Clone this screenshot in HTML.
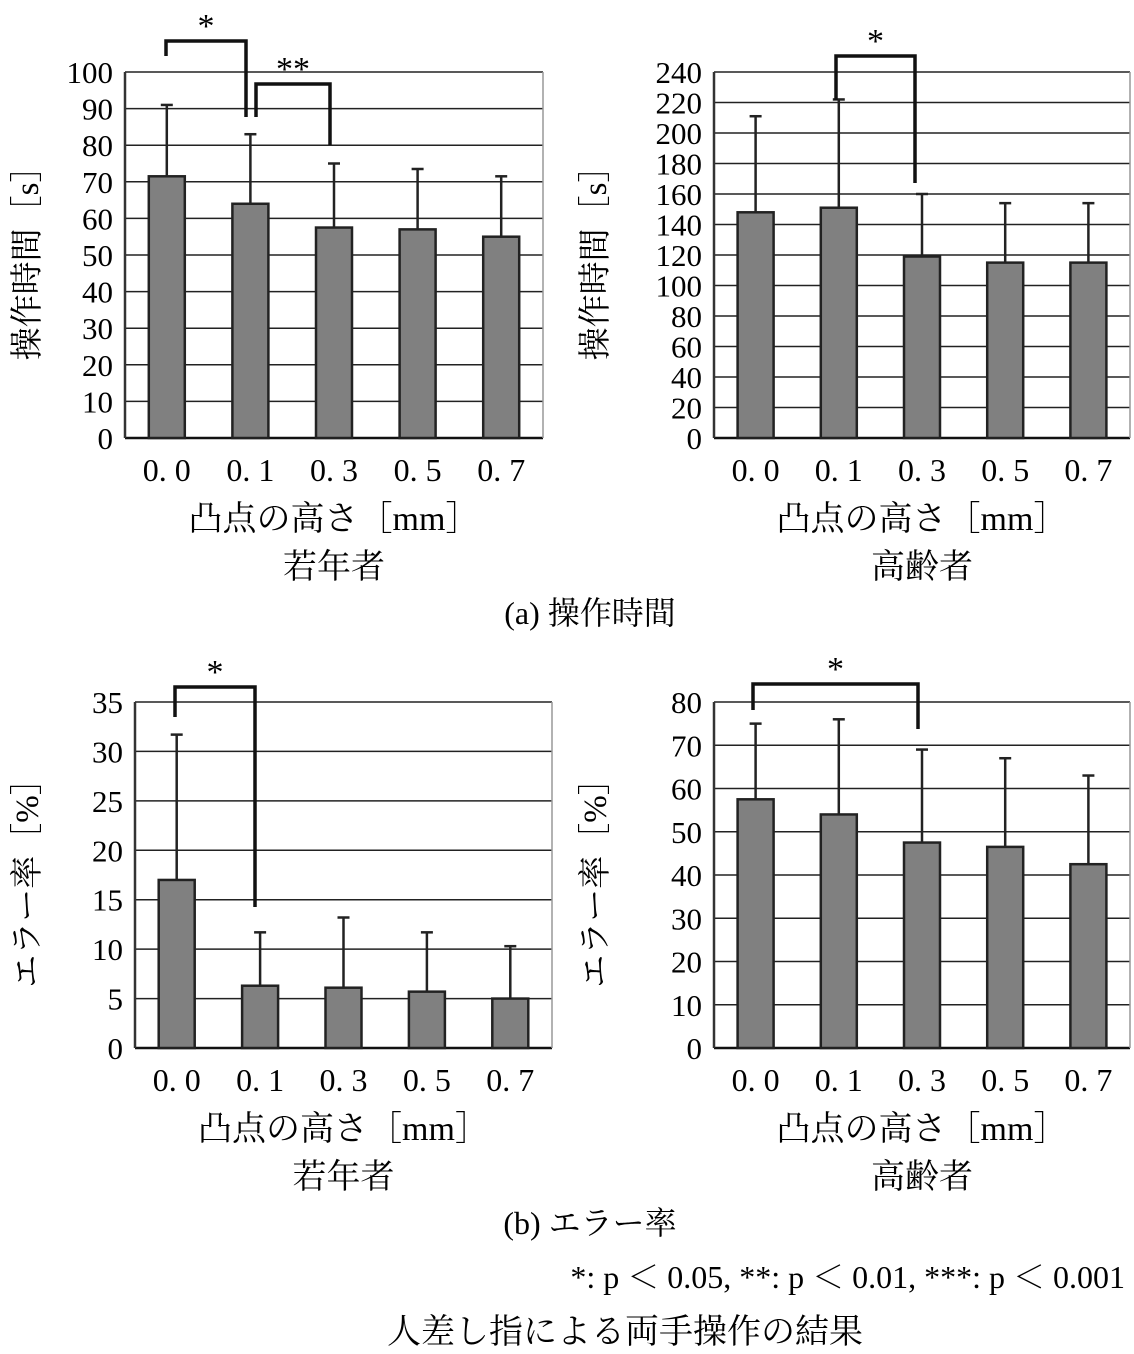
<!DOCTYPE html>
<html><head><meta charset="utf-8"><style>
html,body{margin:0;padding:0;background:#fff;}
svg{display:block;font-family:"Liberation Serif","Noto Serif CJK SC",serif;}
</style></head><body>
<svg id="s" width="1134" height="1354" viewBox="0 0 1134 1354" xmlns="http://www.w3.org/2000/svg">
<g id="g"></g>
<text x="590" y="624" font-size="32" text-anchor="middle">(a) 操作時間</text>
<text x="590" y="1234" font-size="32" text-anchor="middle">(b) エラー率</text>
<text x="1125" y="1288" font-size="32" text-anchor="end">*: p ＜ 0.05, **: p ＜ 0.01, ***: p ＜ 0.001</text>
<text x="625" y="1343" font-size="34" text-anchor="middle">人差し指による両手操作の結果</text>
</svg>
<script>
const categories=["0. 0","0. 1","0. 3","0. 5","0. 7"];
const timeYoung=[71.5,64,57.5,57,55];
const timeYoungErr=[91,83,75,73.5,71.5];
const timeOld=[148,151,119,115,115];
const timeOldErr=[211,222,160,154,154];
const errYoung=[17,6.3,6.1,5.7,5];
const errYoungErr=[31.7,11.7,13.2,11.7,10.3];
const errOld=[57.5,54,47.5,46.5,42.5];
const errOldErr=[75,76,69,67,63];
const NS="http://www.w3.org/2000/svg";
const g=document.getElementById('g');
function el(t,a,p){const e=document.createElementNS(NS,t);for(const k in a)e.setAttribute(k,a[k]);(p||g).appendChild(e);return e;}
function chart(o){
  const grp=el('g',{});
  
  
  const y=v=>o.y1-(v/o.max)*(o.y1-o.y0);
  const n=categories.length,bw=(o.x1-o.x0)/n;
  for(let v=0;v<=o.max;v+=o.step){
    const l=el('line',{x1:o.x0,x2:o.x1,y1:y(v),y2:y(v),stroke:v==0?'#111':'#222','stroke-width':v==0?2.5:1.5},grp);
    
    
    const t=el('text',{x:o.x0-12,y:y(v)+11,'font-size':31,'text-anchor':'end'},grp);
    t.textContent=v;
    
    
  }
  const ax=el('line',{x1:o.x0,x2:o.x0,y1:o.y0,y2:o.y1,stroke:'#333','stroke-width':2.5},grp);
  
  
  const rb=el('line',{x1:o.x1,x2:o.x1,y1:o.y0,y2:o.y1,stroke:'#999','stroke-width':1.5},grp);
  
  
  o.vals.forEach((v,i)=>{
    const cx=o.x0+bw*(i+0.5);
    const e=el('line',{x1:cx,x2:cx,y1:y(o.err[i]),y2:y(v),stroke:'#222','stroke-width':2.5},grp);
    
    
    const c=el('line',{x1:cx-6,x2:cx+6,y1:y(o.err[i]),y2:y(o.err[i]),stroke:'#222','stroke-width':2.5},grp);
    
    
    const r=el('rect',{x:cx-18,y:y(v),width:36,height:y(0)-y(v),fill:'#808080',stroke:'#222','stroke-width':2.5},grp);
    
    
    const t=el('text',{x:cx,y:o.y1+43,'font-size':32,'text-anchor':'middle'},grp);
    t.textContent=categories[i];
    
    
  });
  const mid=(o.x0+o.x1)/2;
  const xt=el('text',{x:mid,y:o.y1+92,'font-size':34,'text-anchor':'middle'},grp);
  xt.textContent='凸点の高さ［mm］';
  
  
  const gt=el('text',{x:mid,y:o.y1+140,'font-size':34,'text-anchor':'middle'},grp);
  gt.textContent=o.group;
  
  
  const yt=el('text',{x:0,y:0,'font-size':33,'text-anchor':'middle',transform:`translate(${o.tx},${(o.y0+o.y1)/2}) rotate(-90)`},grp);
  yt.textContent=o.ytitle;
  
  
  o.br.forEach(b=>{
    const p=el('path',{d:`M${b[0]},${b[3]} V${b[2]} H${b[1]} V${b[4]}`,fill:'none',stroke:'#111','stroke-width':3.5},grp);
    
    
    const s=el('text',{x:(b[0]+b[1])/2,y:b[2]-4,'font-size':34,'text-anchor':'middle'},grp);
    s.textContent=b[5];
    
    
  });
}
chart({name:'chart-time-young',x0:125,x1:543,y0:72,y1:438,max:100,step:10,vals:timeYoung,err:timeYoungErr,group:'若年者',ytitle:'操作時間［s］',tx:38,
  br:[[166,246,41,56,117,'*'],[256,330,84,117,145,'**']]});
chart({name:'chart-time-old',x0:714,x1:1130,y0:72,y1:438,max:240,step:20,vals:timeOld,err:timeOldErr,group:'高齢者',ytitle:'操作時間［s］',tx:606,
  br:[[836,915,56,100,183,'*']]});
chart({name:'chart-error-young',x0:135,x1:552,y0:702,y1:1048,max:35,step:5,vals:errYoung,err:errYoungErr,group:'若年者',ytitle:'エラー率［%］',tx:38,
  br:[[175,255,687,717,907,'*']]});
chart({name:'chart-error-old',x0:714,x1:1130,y0:702,y1:1048,max:80,step:10,vals:errOld,err:errOldErr,group:'高齢者',ytitle:'エラー率［%］',tx:606,
  br:[[753,918,684,710,729,'*']]});
</script>
</body></html>
